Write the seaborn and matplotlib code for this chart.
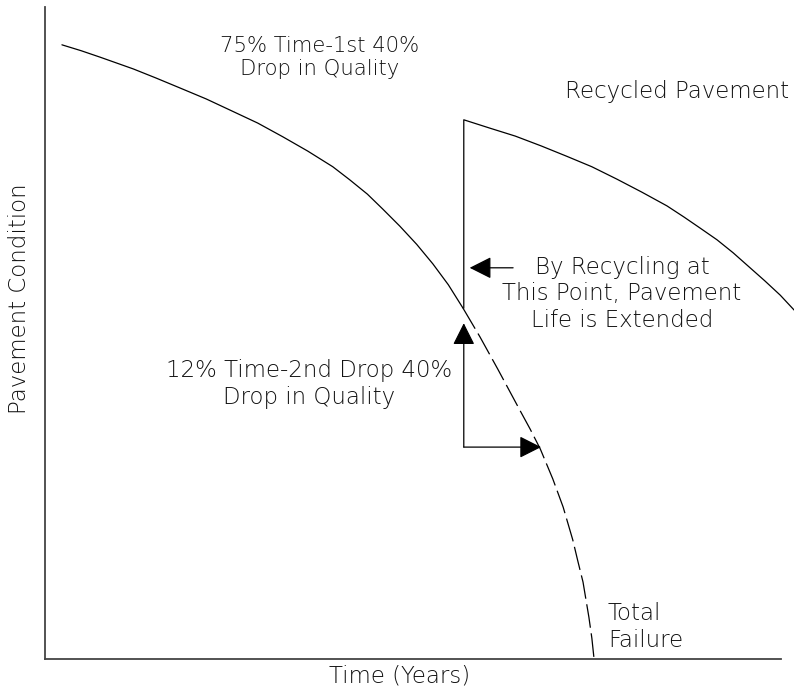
import matplotlib
matplotlib.use("Agg")
import matplotlib.pyplot as plt
import seaborn as sns
import pandas as pd

# original pavement life curve (solid part, then dashed part after the recycling point)
time_solid = [2.3, 4.9, 7.5, 12.0, 15.1, 18.3, 21.9, 25.5, 28.9, 32.3, 35.7, 39.1,
              41.4, 43.8, 45.9, 48.2, 50.5, 52.7, 54.8, 56.8]
cond_solid = [94.2, 93.3, 92.3, 90.5, 89.1, 87.6, 85.9, 84.0, 82.2, 80.1, 77.9, 75.5,
              73.5, 71.3, 69.0, 66.4, 63.6, 60.6, 57.4, 53.8]
time_dash = [56.8, 59.1, 61.5, 64.5, 65.9, 67.3, 69.0, 70.4, 71.7, 72.4, 73.1, 73.9, 74.3, 74.6]
cond_dash = [53.8, 49.4, 44.5, 38.2, 35.3, 32.2, 27.6, 23.3, 18.3, 15.0, 11.8, 6.4, 3.2, 0.0]

# recycled pavement: jump up at the recycling point, then new decay curve
time_recy = [56.9, 56.9, 60.5, 63.9, 67.4, 70.9, 74.3, 77.7, 81.1, 84.5, 86.8, 89.0,
             91.3, 93.5, 95.7, 97.8, 99.9, 101.8]
cond_recy = [53.8, 82.7, 81.4, 80.2, 78.7, 77.1, 75.5, 73.6, 71.6, 69.5, 67.8, 66.1,
             64.3, 62.3, 60.1, 58.0, 55.8, 53.5]

# annotation arrows (start -> end)
arrow_left = [(63.6, 60.0), (57.7, 60.0)]
arrow_up = [(56.9, 32.5), (56.9, 51.5)]
arrow_right = [(56.9, 32.5), (67.4, 32.5)]

sns.set_theme(style="white")
plt.rcParams["font.family"] = ["DejaVu Sans"]

fig = plt.figure(figsize=(7.94, 6.88), dpi=100)
ax = fig.add_axes([0.05668, 0.04215, 0.92695, 0.94767])

df_solid = pd.DataFrame({"t": time_solid, "c": cond_solid})
df_dash = pd.DataFrame({"t": time_dash, "c": cond_dash})
df_recy = pd.DataFrame({"t": time_recy, "c": cond_recy})

sns.lineplot(data=df_solid, x="t", y="c", ax=ax, color="black", lw=0.9,
             estimator=None, sort=False)
sns.lineplot(data=df_dash, x="t", y="c", ax=ax, color="black", lw=0.9,
             estimator=None, sort=False, dashes=False, linestyle=(0, (19, 4.5)))
sns.lineplot(data=df_recy, x="t", y="c", ax=ax, color="black", lw=0.9,
             estimator=None, sort=False, clip_on=False)

arrow_kw = dict(arrowstyle="-|>,head_length=13.5,head_width=6.8",
                mutation_scale=1, color="black", lw=0.9,
                shrinkA=0, shrinkB=0)
for a in (arrow_left, arrow_up, arrow_right):
    ax.annotate("", xy=a[1], xytext=a[0], arrowprops=arrow_kw)

ax.set_xlim(0, 100)
ax.set_ylim(0, 100)
ax.set_xticks([])
ax.set_yticks([])
for side in ["top", "right"]:
    ax.spines[side].set_visible(False)
for side in ["left", "bottom"]:
    ax.spines[side].set_color("#444444")
    ax.spines[side].set_linewidth(1.3)

fs = 16.5
txt = dict(color="#111111", fontweight="light", linespacing=1.2)
ax.text(37.3, 92.2, "75% Time-1st 40%\nDrop in Quality", ha="center", va="center",
        fontsize=15.2, **txt)
ax.text(85.9, 87.1, "Recycled Pavement", ha="center", va="center", fontsize=fs, **txt)
ax.text(78.4, 56.0, "By Recycling at\nThis Point, Pavement\nLife is Extended",
        ha="center", va="center", fontsize=fs, **txt)
ax.text(35.9, 42.2, "12% Time-2nd Drop 40%\nDrop in Quality", ha="center", va="center",
        fontsize=fs, **txt)
ax.text(76.5, 4.9, "Total\nFailure", ha="left", va="center", fontsize=fs, **txt)

ax.set_xlabel("Time (Years)", fontsize=fs, color="#111111", fontweight="light")
ax.set_ylabel("Pavement Condition", fontsize=fs, color="#111111", fontweight="light")
ax.xaxis.set_label_coords(0.482, -0.026)
ax.yaxis.set_label_coords(-0.034, 0.552)
ax.xaxis.label.set_va("center")
ax.yaxis.label.set_va("center")

fig.savefig("out.png", dpi=100)
